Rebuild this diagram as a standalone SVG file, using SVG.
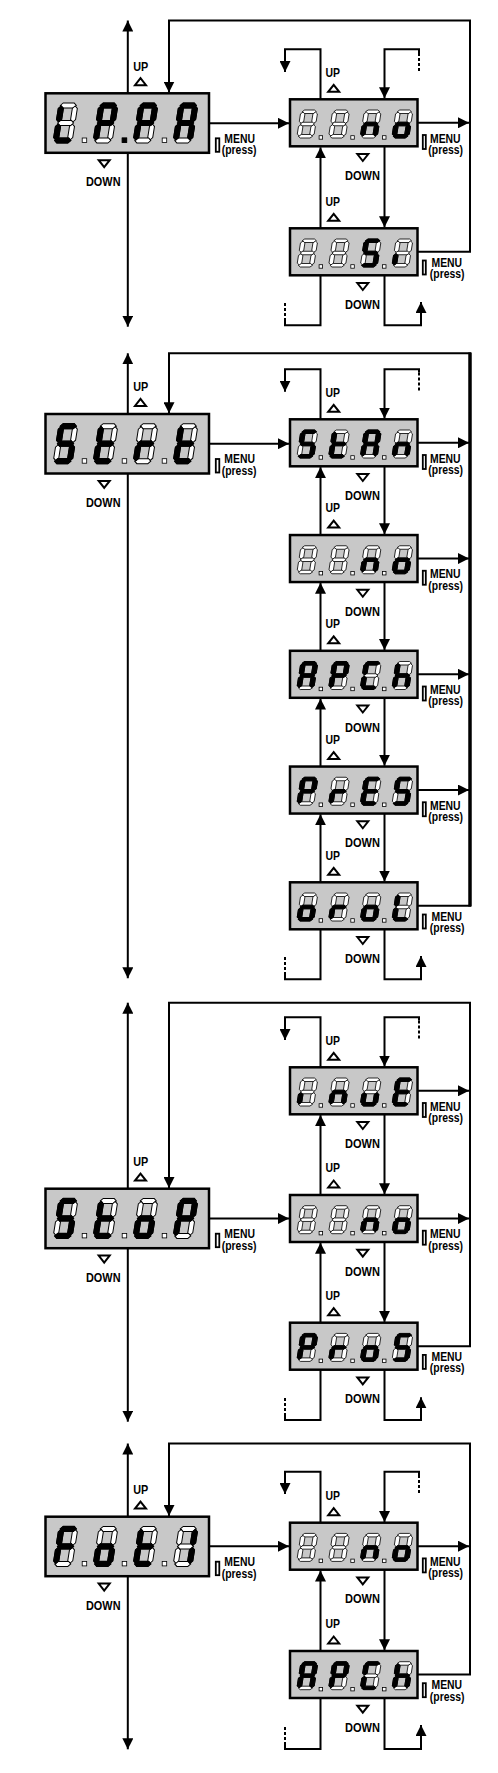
<svg xmlns="http://www.w3.org/2000/svg" xmlns:xlink="http://www.w3.org/1999/xlink" width="498" height="1773" viewBox="0 0 498 1773">
<style>
.bx{fill:#c8c8c8;stroke:#000;stroke-width:2.5}
.off{fill:#fff;stroke:#000;stroke-width:1}
.on{fill:#000;stroke:#000;stroke-width:1.2}
.dp{fill:#fff;stroke:#000;stroke-width:0.8}
.dpon{fill:#000;stroke:#000;stroke-width:0.8}
.c{fill:none;stroke:#000;stroke-width:2}
.ds{fill:none;stroke:#000;stroke-width:2;stroke-dasharray:3 2}
.tri{fill:#fff;stroke:#000;stroke-width:2}
.ic{fill:#fff;stroke:#000;stroke-width:1.8}
.t{font-family:"Liberation Sans",Arial,sans-serif;font-weight:bold;font-size:13.5px;fill:#000}
.m{font-family:"Liberation Sans",Arial,sans-serif;font-weight:bold;font-size:13px;fill:#000}
</style>
<defs>
<marker id="ah" viewBox="0 0 11 11" refX="11" refY="5.5" markerWidth="11" markerHeight="11" markerUnits="userSpaceOnUse" orient="auto"><path d="M0,0 L11,5.5 L0,11 Z" fill="#000"/></marker>
<path id="sa" d="M1.5,2.5 L4,0 L15,0 L17.5,2.5 L15,5 L4,5 Z"/>
<path id="sb" d="M16.5,3 L19,5.5 L19,16.5 L16.5,19 L14,16.5 L14,5.5 Z"/>
<path id="sc" d="M16.5,21 L19,23.5 L19,34.5 L16.5,37 L14,34.5 L14,23.5 Z"/>
<path id="sd" d="M1.5,37.5 L4,35 L15,35 L17.5,37.5 L15,40 L4,40 Z"/>
<path id="se" d="M2.5,21 L5,23.5 L5,34.5 L2.5,37 L0,34.5 L0,23.5 Z"/>
<path id="sf" d="M2.5,3 L5,5.5 L5,16.5 L2.5,19 L0,16.5 L0,5.5 Z"/>
<path id="sg" d="M1.5,20 L4,17.5 L15,17.5 L17.5,20 L15,22.5 L4,22.5 Z"/>
<g id="cB" class="off"><use href="#sa"/><use href="#sb"/><use href="#sc"/><use href="#sd"/><use href="#se"/><use href="#sf"/><use href="#sg"/></g>
<g id="cL"><use href="#cB"/><g class="on"><use href="#sf"/><use href="#se"/><use href="#sd"/></g></g>
<g id="cP"><use href="#cB"/><g class="on"><use href="#sa"/><use href="#sb"/><use href="#sf"/><use href="#sg"/><use href="#se"/></g></g>
<g id="cA"><use href="#cB"/><g class="on"><use href="#sa"/><use href="#sb"/><use href="#sc"/><use href="#se"/><use href="#sf"/><use href="#sg"/></g></g>
<g id="cn"><use href="#cB"/><g class="on"><use href="#sc"/><use href="#se"/><use href="#sg"/></g></g>
<g id="co"><use href="#cB"/><g class="on"><use href="#sc"/><use href="#sd"/><use href="#se"/><use href="#sg"/></g></g>
<g id="cS"><use href="#cB"/><g class="on"><use href="#sa"/><use href="#sf"/><use href="#sg"/><use href="#sc"/><use href="#sd"/></g></g>
<g id="ci"><use href="#cB"/><g class="on"><use href="#se"/></g></g>
<g id="ct"><use href="#cB"/><g class="on"><use href="#sf"/><use href="#se"/><use href="#sd"/><use href="#sg"/></g></g>
<g id="cr"><use href="#cB"/><g class="on"><use href="#se"/><use href="#sg"/></g></g>
<g id="ch"><use href="#cB"/><g class="on"><use href="#sf"/><use href="#se"/><use href="#sg"/><use href="#sc"/></g></g>
<g id="cE"><use href="#cB"/><g class="on"><use href="#sa"/><use href="#sf"/><use href="#sg"/><use href="#se"/><use href="#sd"/></g></g>
<g id="cC"><use href="#cB"/><g class="on"><use href="#sa"/><use href="#sf"/><use href="#se"/><use href="#sd"/></g></g>
<g id="cu"><use href="#cB"/><g class="on"><use href="#sc"/><use href="#sd"/><use href="#se"/></g></g>
<g id="cI"><use href="#cB"/><g class="on"><use href="#sb"/><use href="#sc"/></g></g>
<g id="cF"><use href="#cB"/><g class="on"><use href="#sa"/><use href="#sf"/><use href="#sg"/><use href="#se"/></g></g>
<g id="mdp"><rect class="dp" x="36.7" y="44.7" width="4.5" height="4.5"/><rect class="dp" x="76.7" y="44.7" width="4.5" height="4.5"/><rect class="dp" x="116.7" y="44.7" width="4.5" height="4.5"/></g>
<g id="sdp"><rect class="dp" x="29.1" y="36.4" width="3.5" height="3.5"/><rect class="dp" x="60.8" y="36.4" width="3.5" height="3.5"/><rect class="dp" x="92.5" y="36.4" width="3.5" height="3.5"/></g>
<path id="tu" class="tri" d="M0,-3.5 L5.5,3.5 L-5.5,3.5 Z"/>
<path id="td" class="tri" d="M0,3.5 L5.5,-3.5 L-5.5,-3.5 Z"/>
<rect id="icm" class="ic" width="3.5" height="13.5"/>
<rect id="ics" class="ic" width="3" height="14"/>
</defs>
<rect width="498" height="1773" fill="#fff"/>

<g id="connectors">
<!-- block 1 -->
<path class="c" marker-end="url(#ah)" d="M127.8,93.3 V20.5"/>
<path class="c" marker-end="url(#ah)" d="M127.8,152.8 V326.7"/>
<path class="c" marker-end="url(#ah)" d="M417.5,251.8 H470 V20.5 H169 V92.5"/>
<path class="c" marker-end="url(#ah)" d="M209,123.3 H289"/>
<path class="c" marker-end="url(#ah)" d="M417.5,122.8 H469"/>
<path class="c" marker-end="url(#ah)" d="M384.5,146.3 V227.3"/>
<path class="c" marker-end="url(#ah)" d="M320.5,228.3 V147.3"/>
<path class="c" marker-end="url(#ah)" d="M320.5,99.3 V49.3 H285 V72"/>
<path class="c" marker-end="url(#ah)" d="M419,53 V49.3 H384.5 V98.3"/>
<path class="ds" d="M419,53 V72"/>
<path class="c" d="M320.5,275.3 V325.3 H285 V321"/>
<path class="ds" d="M285,321 V303"/>
<path class="c" marker-end="url(#ah)" d="M384.5,275.3 V325.3 H421 V302"/>
<!-- block 2 -->
<path class="c" marker-end="url(#ah)" d="M127.8,414 V353.3"/>
<path class="c" marker-end="url(#ah)" d="M127.8,473.5 V978.3"/>
<path class="c" marker-end="url(#ah)" d="M417.5,905.8 H470 V353.3 H169 V413.2"/>
<path class="c" style="stroke-width:3.5" d="M470,906.5 V352.5"/>
<path class="c" marker-end="url(#ah)" d="M209,443.7 H289"/>
<path class="c" marker-end="url(#ah)" d="M417.5,442.8 H469"/>
<path class="c" marker-end="url(#ah)" d="M417.5,558.55 H469"/>
<path class="c" marker-end="url(#ah)" d="M417.5,674.3 H469"/>
<path class="c" marker-end="url(#ah)" d="M417.5,790.05 H469"/>
<path class="c" marker-end="url(#ah)" d="M384.5,466.3 V534.3"/>
<path class="c" marker-end="url(#ah)" d="M320.5,535.05 V467.1"/>
<path class="c" marker-end="url(#ah)" d="M384.5,582.05 V650"/>
<path class="c" marker-end="url(#ah)" d="M320.5,650.8 V582.8"/>
<path class="c" marker-end="url(#ah)" d="M384.5,697.8 V765.8"/>
<path class="c" marker-end="url(#ah)" d="M320.5,766.55 V698.6"/>
<path class="c" marker-end="url(#ah)" d="M384.5,813.55 V881.5"/>
<path class="c" marker-end="url(#ah)" d="M320.5,882.3 V814.3"/>
<path class="c" marker-end="url(#ah)" d="M320.5,419.3 V369.3 H285 V391.8"/>
<path class="c" marker-end="url(#ah)" d="M419,372.5 V369.3 H384.5 V418.5"/>
<path class="ds" d="M419,372.5 V391.8"/>
<path class="c" d="M320.5,929.3 V979.3 H285 V975"/>
<path class="ds" d="M285,975 V957"/>
<path class="c" marker-end="url(#ah)" d="M384.5,929.3 V979.3 H421 V956"/>
<!-- block 3 -->
<path class="c" marker-end="url(#ah)" d="M127.8,1188.7 V1002.7"/>
<path class="c" marker-end="url(#ah)" d="M127.8,1248.2 V1421.7"/>
<path class="c" marker-end="url(#ah)" d="M417.5,1346.2 H470 V1002.7 H169 V1188"/>
<path class="c" marker-end="url(#ah)" d="M209,1218.5 H289"/>
<path class="c" marker-end="url(#ah)" d="M417.5,1090.8 H469"/>
<path class="c" marker-end="url(#ah)" d="M417.5,1218.5 H469"/>
<path class="c" marker-end="url(#ah)" d="M384.5,1114.3 V1194.2"/>
<path class="c" marker-end="url(#ah)" d="M320.5,1195 V1115.1"/>
<path class="c" marker-end="url(#ah)" d="M384.5,1242 V1321.9"/>
<path class="c" marker-end="url(#ah)" d="M320.5,1322.7 V1242.8"/>
<path class="c" marker-end="url(#ah)" d="M320.5,1067.3 V1017.3 H285 V1040"/>
<path class="c" marker-end="url(#ah)" d="M419,1020.5 V1017.3 H384.5 V1066.5"/>
<path class="ds" d="M419,1020.5 V1040"/>
<path class="c" d="M320.5,1369.7 V1420 H285 V1416"/>
<path class="ds" d="M285,1416 V1398"/>
<path class="c" marker-end="url(#ah)" d="M384.5,1369.7 V1420 H421 V1397.3"/>
<!-- block 4 -->
<path class="c" marker-end="url(#ah)" d="M127.8,1516.7 V1443.5"/>
<path class="c" marker-end="url(#ah)" d="M127.8,1576.2 V1749.3"/>
<path class="c" marker-end="url(#ah)" d="M417.5,1674.5 H470 V1443.5 H169 V1516"/>
<path class="c" marker-end="url(#ah)" d="M209,1546.3 H289"/>
<path class="c" marker-end="url(#ah)" d="M417.5,1546.2 H469"/>
<path class="c" marker-end="url(#ah)" d="M384.5,1569.7 V1650.2"/>
<path class="c" marker-end="url(#ah)" d="M320.5,1651 V1570.5"/>
<path class="c" marker-end="url(#ah)" d="M320.5,1522.7 V1471.7 H285 V1494"/>
<path class="c" marker-end="url(#ah)" d="M419,1475 V1471.7 H384.5 V1522"/>
<path class="ds" d="M419,1475 V1494"/>
<path class="c" d="M320.5,1698 V1749 H285 V1745"/>
<path class="ds" d="M285,1745 V1725.7"/>
<path class="c" marker-end="url(#ah)" d="M384.5,1698 V1749 H421 V1725"/>
</g>

<!-- block 1 nodes -->
<g id="lppa" transform="translate(45.5,93.3)">
<rect class="bx" width="163.5" height="59.5"/>
<g transform="translate(13.7,9.7) skewX(-9)"><use href="#cL"/><use href="#cP" x="40"/><use href="#cP" x="80"/><use href="#cA" x="120"/></g>
<use href="#mdp"/><rect class="dpon" x="76.7" y="44.7" width="4.5" height="4.5"/>
</g>
<g id="lppa-no" transform="translate(290,99.3)">
<rect class="bx" width="127.5" height="47"/>
<g transform="translate(11.1,10.7) skewX(-9) scale(0.89,0.7)"><use href="#cB"/><use href="#cB" x="35.62"/><use href="#cn" x="71.24"/><use href="#co" x="106.85"/></g>
<use href="#sdp"/>
</g>
<g id="lppa-si" transform="translate(290,228.3)">
<rect class="bx" width="127.5" height="47"/>
<g transform="translate(11.1,10.7) skewX(-9) scale(0.89,0.7)"><use href="#cB"/><use href="#cB" x="35.62"/><use href="#cS" x="71.24"/><use href="#ci" x="106.85"/></g>
<use href="#sdp"/>
</g>

<!-- block 2 nodes -->
<g id="strt" transform="translate(45.5,414)">
<rect class="bx" width="163.5" height="59.5"/>
<g transform="translate(13.7,9.7) skewX(-9)"><use href="#cS"/><use href="#ct" x="40"/><use href="#cr" x="80"/><use href="#ct" x="120"/></g>
<use href="#mdp"/>
</g>
<g id="strt-stan" transform="translate(290,419.3)">
<rect class="bx" width="127.5" height="47"/>
<g transform="translate(11.1,10.7) skewX(-9) scale(0.89,0.7)"><use href="#cS"/><use href="#ct" x="35.62"/><use href="#cA" x="71.24"/><use href="#cn" x="106.85"/></g>
<use href="#sdp"/>
</g>
<g id="strt-no" transform="translate(290,535.05)">
<rect class="bx" width="127.5" height="47"/>
<g transform="translate(11.1,10.7) skewX(-9) scale(0.89,0.7)"><use href="#cB"/><use href="#cB" x="35.62"/><use href="#cn" x="71.24"/><use href="#co" x="106.85"/></g>
<use href="#sdp"/>
</g>
<g id="strt-apch" transform="translate(290,650.8)">
<rect class="bx" width="127.5" height="47"/>
<g transform="translate(11.1,10.7) skewX(-9) scale(0.89,0.7)"><use href="#cA"/><use href="#cP" x="35.62"/><use href="#cC" x="71.24"/><use href="#ch" x="106.85"/></g>
<use href="#sdp"/>
</g>
<g id="strt-pres" transform="translate(290,766.55)">
<rect class="bx" width="127.5" height="47"/>
<g transform="translate(11.1,10.7) skewX(-9) scale(0.89,0.7)"><use href="#cP"/><use href="#cr" x="35.62"/><use href="#cE" x="71.24"/><use href="#cS" x="106.85"/></g>
<use href="#sdp"/>
</g>
<g id="strt-orol" transform="translate(290,882.3)">
<rect class="bx" width="127.5" height="47"/>
<g transform="translate(11.1,10.7) skewX(-9) scale(0.89,0.7)"><use href="#co"/><use href="#cr" x="35.62"/><use href="#co" x="71.24"/><use href="#cL" x="106.85"/></g>
<use href="#sdp"/>
</g>

<!-- block 3 nodes -->
<g id="stop" transform="translate(45.5,1188.7)">
<rect class="bx" width="163.5" height="59.5"/>
<g transform="translate(13.7,9.7) skewX(-9)"><use href="#cS"/><use href="#ct" x="40"/><use href="#co" x="80"/><use href="#cP" x="120"/></g>
<use href="#mdp"/>
</g>
<g id="stop-inue" transform="translate(290,1067.3)">
<rect class="bx" width="127.5" height="47"/>
<g transform="translate(11.1,10.7) skewX(-9) scale(0.89,0.7)"><use href="#ci"/><use href="#cn" x="35.62"/><use href="#cu" x="71.24"/><use href="#cE" x="106.85"/></g>
<use href="#sdp"/>
</g>
<g id="stop-no" transform="translate(290,1195)">
<rect class="bx" width="127.5" height="47"/>
<g transform="translate(11.1,10.7) skewX(-9) scale(0.89,0.7)"><use href="#cB"/><use href="#cB" x="35.62"/><use href="#cn" x="71.24"/><use href="#co" x="106.85"/></g>
<use href="#sdp"/>
</g>
<g id="stop-pros" transform="translate(290,1322.7)">
<rect class="bx" width="127.5" height="47"/>
<g transform="translate(11.1,10.7) skewX(-9) scale(0.89,0.7)"><use href="#cP"/><use href="#cr" x="35.62"/><use href="#co" x="71.24"/><use href="#cS" x="106.85"/></g>
<use href="#sdp"/>
</g>

<!-- block 4 nodes -->
<g id="foti" transform="translate(45.5,1516.7)">
<rect class="bx" width="163.5" height="59.5"/>
<g transform="translate(13.7,9.7) skewX(-9)"><use href="#cF"/><use href="#co" x="40"/><use href="#ct" x="80"/><use href="#cI" x="120"/></g>
<use href="#mdp"/>
</g>
<g id="foti-no" transform="translate(290,1522.7)">
<rect class="bx" width="127.5" height="47"/>
<g transform="translate(11.1,10.7) skewX(-9) scale(0.89,0.7)"><use href="#cB"/><use href="#cB" x="35.62"/><use href="#cn" x="71.24"/><use href="#co" x="106.85"/></g>
<use href="#sdp"/>
</g>
<g id="foti-apch" transform="translate(290,1651)">
<rect class="bx" width="127.5" height="47"/>
<g transform="translate(11.1,10.7) skewX(-9) scale(0.89,0.7)"><use href="#cA"/><use href="#cP" x="35.62"/><use href="#cC" x="71.24"/><use href="#ch" x="106.85"/></g>
<use href="#sdp"/>
</g>

<g id="labels">
<!-- block 1 -->
<text class="t" x="133.3" y="70.7" textLength="15" lengthAdjust="spacingAndGlyphs">UP</text><use href="#tu" x="140.5" y="81.7"/>
<use href="#td" x="104.2" y="163.7"/><text class="t" x="86" y="186.2" textLength="34.5" lengthAdjust="spacingAndGlyphs">DOWN</text>
<use href="#icm" x="215.8" y="138.3"/><text class="m" transform="translate(224.3,142.5) scale(0.8,1)"><tspan x="0" y="0">MENU</tspan><tspan x="-3.2" y="11.6">(press)</tspan></text>

<text class="t" x="325.5" y="76.7" textLength="14.5" lengthAdjust="spacingAndGlyphs">UP</text><use href="#tu" x="333.7" y="88.3"/>
<use href="#td" x="362.8" y="157.5"/><text class="t" x="345" y="180" textLength="35" lengthAdjust="spacingAndGlyphs">DOWN</text>
<use href="#ics" x="422.8" y="135"/><text class="m" transform="translate(430,142.7) scale(0.8,1)"><tspan x="0" y="0">MENU</tspan><tspan x="-2.1" y="11.2">(press)</tspan></text>

<text class="t" x="325.5" y="205.7" textLength="14.5" lengthAdjust="spacingAndGlyphs">UP</text><use href="#tu" x="333.7" y="217.3"/>
<use href="#td" x="362.8" y="286.5"/><text class="t" x="345" y="309" textLength="35" lengthAdjust="spacingAndGlyphs">DOWN</text>
<use href="#ics" x="422.8" y="260.5"/><text class="m" transform="translate(431.5,266.6) scale(0.8,1)"><tspan x="0" y="0">MENU</tspan><tspan x="-2.1" y="11.2">(press)</tspan></text>

<!-- block 2 -->
<text class="t" x="133.3" y="391.4" textLength="15" lengthAdjust="spacingAndGlyphs">UP</text><use href="#tu" x="140.5" y="402.4"/>
<use href="#td" x="104.2" y="484.4"/><text class="t" x="86" y="506.9" textLength="34.5" lengthAdjust="spacingAndGlyphs">DOWN</text>
<use href="#icm" x="215.8" y="459"/><text class="m" transform="translate(224.3,463.2) scale(0.8,1)"><tspan x="0" y="0">MENU</tspan><tspan x="-3.2" y="11.6">(press)</tspan></text>

<text class="t" x="325.5" y="396.7" textLength="14.5" lengthAdjust="spacingAndGlyphs">UP</text><use href="#tu" x="333.7" y="408.3"/>
<use href="#td" x="362.8" y="477.5"/><text class="t" x="345" y="500" textLength="35" lengthAdjust="spacingAndGlyphs">DOWN</text>
<use href="#ics" x="422.8" y="455"/><text class="m" transform="translate(430,462.7) scale(0.8,1)"><tspan x="0" y="0">MENU</tspan><tspan x="-2.1" y="11.2">(press)</tspan></text>

<text class="t" x="325.5" y="512.45" textLength="14.5" lengthAdjust="spacingAndGlyphs">UP</text><use href="#tu" x="333.7" y="524.05"/>
<use href="#td" x="362.8" y="593.25"/><text class="t" x="345" y="615.75" textLength="35" lengthAdjust="spacingAndGlyphs">DOWN</text>
<use href="#ics" x="422.8" y="570.75"/><text class="m" transform="translate(430,578.45) scale(0.8,1)"><tspan x="0" y="0">MENU</tspan><tspan x="-2.1" y="11.2">(press)</tspan></text>

<text class="t" x="325.5" y="628.2" textLength="14.5" lengthAdjust="spacingAndGlyphs">UP</text><use href="#tu" x="333.7" y="639.8"/>
<use href="#td" x="362.8" y="709"/><text class="t" x="345" y="731.5" textLength="35" lengthAdjust="spacingAndGlyphs">DOWN</text>
<use href="#ics" x="422.8" y="686.5"/><text class="m" transform="translate(430,694.2) scale(0.8,1)"><tspan x="0" y="0">MENU</tspan><tspan x="-2.1" y="11.2">(press)</tspan></text>

<text class="t" x="325.5" y="743.95" textLength="14.5" lengthAdjust="spacingAndGlyphs">UP</text><use href="#tu" x="333.7" y="755.55"/>
<use href="#td" x="362.8" y="824.75"/><text class="t" x="345" y="847.25" textLength="35" lengthAdjust="spacingAndGlyphs">DOWN</text>
<use href="#ics" x="422.8" y="802.25"/><text class="m" transform="translate(430,809.95) scale(0.8,1)"><tspan x="0" y="0">MENU</tspan><tspan x="-2.1" y="11.2">(press)</tspan></text>

<text class="t" x="325.5" y="859.7" textLength="14.5" lengthAdjust="spacingAndGlyphs">UP</text><use href="#tu" x="333.7" y="871.3"/>
<use href="#td" x="362.8" y="940.5"/><text class="t" x="345" y="963" textLength="35" lengthAdjust="spacingAndGlyphs">DOWN</text>
<use href="#ics" x="422.8" y="914.5"/><text class="m" transform="translate(431.5,920.6) scale(0.8,1)"><tspan x="0" y="0">MENU</tspan><tspan x="-2.1" y="11.2">(press)</tspan></text>

<!-- block 3 -->
<text class="t" x="133.3" y="1166.1" textLength="15" lengthAdjust="spacingAndGlyphs">UP</text><use href="#tu" x="140.5" y="1177.1"/>
<use href="#td" x="104.2" y="1259.1"/><text class="t" x="86" y="1281.6" textLength="34.5" lengthAdjust="spacingAndGlyphs">DOWN</text>
<use href="#icm" x="215.8" y="1233.7"/><text class="m" transform="translate(224.3,1237.9) scale(0.8,1)"><tspan x="0" y="0">MENU</tspan><tspan x="-3.2" y="11.6">(press)</tspan></text>

<text class="t" x="325.5" y="1044.7" textLength="14.5" lengthAdjust="spacingAndGlyphs">UP</text><use href="#tu" x="333.7" y="1056.3"/>
<use href="#td" x="362.8" y="1125.5"/><text class="t" x="345" y="1148" textLength="35" lengthAdjust="spacingAndGlyphs">DOWN</text>
<use href="#ics" x="422.8" y="1103"/><text class="m" transform="translate(430,1110.7) scale(0.8,1)"><tspan x="0" y="0">MENU</tspan><tspan x="-2.1" y="11.2">(press)</tspan></text>

<text class="t" x="325.5" y="1172.4" textLength="14.5" lengthAdjust="spacingAndGlyphs">UP</text><use href="#tu" x="333.7" y="1184"/>
<use href="#td" x="362.8" y="1253.2"/><text class="t" x="345" y="1275.7" textLength="35" lengthAdjust="spacingAndGlyphs">DOWN</text>
<use href="#ics" x="422.8" y="1230.7"/><text class="m" transform="translate(430,1238.4) scale(0.8,1)"><tspan x="0" y="0">MENU</tspan><tspan x="-2.1" y="11.2">(press)</tspan></text>

<text class="t" x="325.5" y="1300.1" textLength="14.5" lengthAdjust="spacingAndGlyphs">UP</text><use href="#tu" x="333.7" y="1311.7"/>
<use href="#td" x="362.8" y="1380.9"/><text class="t" x="345" y="1403.4" textLength="35" lengthAdjust="spacingAndGlyphs">DOWN</text>
<use href="#ics" x="422.8" y="1354.9"/><text class="m" transform="translate(431.5,1361) scale(0.8,1)"><tspan x="0" y="0">MENU</tspan><tspan x="-2.1" y="11.2">(press)</tspan></text>

<!-- block 4 -->
<text class="t" x="133.3" y="1494.1" textLength="15" lengthAdjust="spacingAndGlyphs">UP</text><use href="#tu" x="140.5" y="1505.1"/>
<use href="#td" x="104.2" y="1587.1"/><text class="t" x="86" y="1609.6" textLength="34.5" lengthAdjust="spacingAndGlyphs">DOWN</text>
<use href="#icm" x="215.8" y="1561.7"/><text class="m" transform="translate(224.3,1565.9) scale(0.8,1)"><tspan x="0" y="0">MENU</tspan><tspan x="-3.2" y="11.6">(press)</tspan></text>

<text class="t" x="325.5" y="1500.1" textLength="14.5" lengthAdjust="spacingAndGlyphs">UP</text><use href="#tu" x="333.7" y="1511.7"/>
<use href="#td" x="362.8" y="1580.9"/><text class="t" x="345" y="1603.4" textLength="35" lengthAdjust="spacingAndGlyphs">DOWN</text>
<use href="#ics" x="422.8" y="1558.4"/><text class="m" transform="translate(430,1566.1) scale(0.8,1)"><tspan x="0" y="0">MENU</tspan><tspan x="-2.1" y="11.2">(press)</tspan></text>

<text class="t" x="325.5" y="1628.4" textLength="14.5" lengthAdjust="spacingAndGlyphs">UP</text><use href="#tu" x="333.7" y="1640"/>
<use href="#td" x="362.8" y="1709.2"/><text class="t" x="345" y="1731.7" textLength="35" lengthAdjust="spacingAndGlyphs">DOWN</text>
<use href="#ics" x="422.8" y="1683.2"/><text class="m" transform="translate(431.5,1689.3) scale(0.8,1)"><tspan x="0" y="0">MENU</tspan><tspan x="-2.1" y="11.2">(press)</tspan></text>
</g>
</svg>
